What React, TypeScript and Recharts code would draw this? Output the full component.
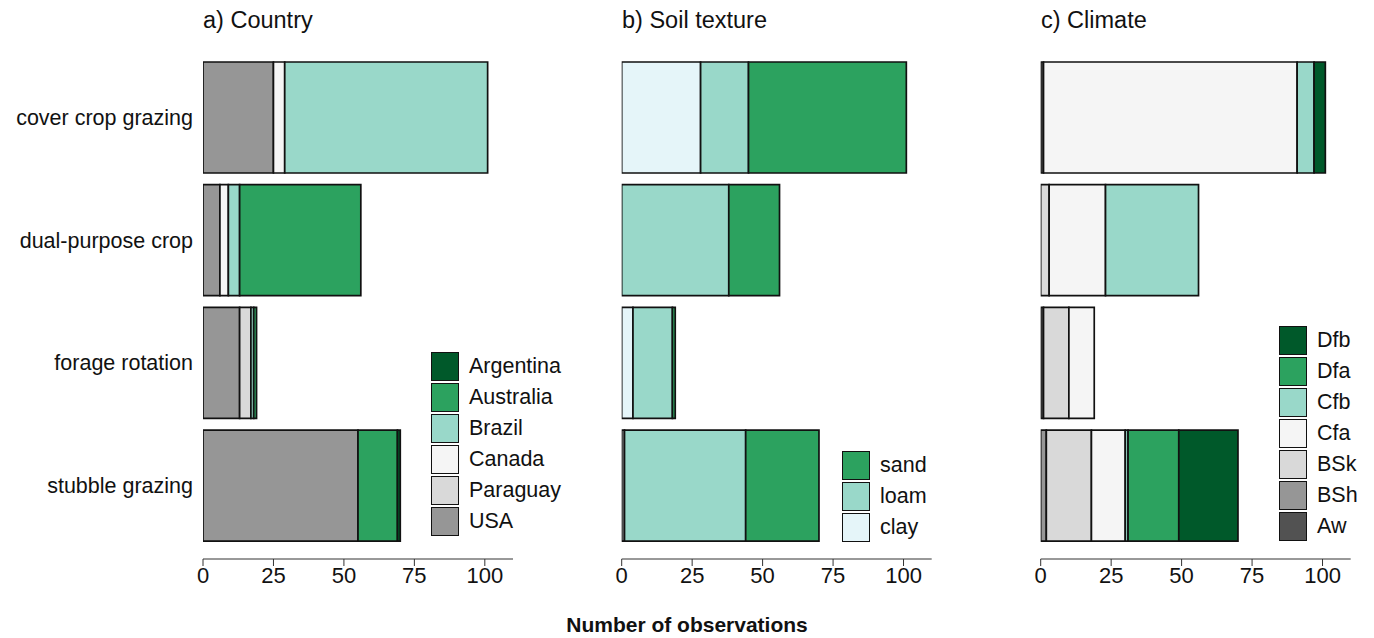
import { BarChart, Bar, XAxis, YAxis } from 'recharts'

const categories = ['cover crop grazing', 'dual-purpose crop', 'forage rotation', 'stubble grazing']
const xTicks = [0, 25, 50, 75, 100]

// country (stack order left -> right)
const usa = [25, 6, 13, 55]
const paraguay = [0, 0, 4, 0]
const canada = [4, 3, 0, 0]
const brazil = [72, 4, 1, 0]
const australia = [0, 43, 1, 14]
const argentina = [0, 0, 0, 1]

// soil texture
const soilOther = [0, 0, 0, 1]
const clay = [28, 0, 4, 0]
const loam = [17, 38, 14, 43]
const sand = [56, 18, 1, 26]

// climate
const aw = [1, 0, 1, 0]
const bsh = [0, 0, 0, 2]
const bsk = [0, 3, 9, 16]
const cfa = [90, 20, 9, 12]
const cfb = [6, 33, 0, 1]
const dfa = [0, 0, 0, 18]
const dfb = [4, 0, 0, 21]

const C = {
  dark: '#00592a',
  green: '#2ca25f',
  teal: '#99d8c9',
  white: '#f5f5f5',
  light: '#d9d9d9',
  grey: '#969696',
  dgrey: '#525252',
  ice: '#e5f5f9',
}

type Series = { key: string; values: number[]; color: string; legend: boolean }

const countrySeries: Series[] = [
  { key: 'USA', values: usa, color: C.grey, legend: true },
  { key: 'Paraguay', values: paraguay, color: C.light, legend: true },
  { key: 'Canada', values: canada, color: C.white, legend: true },
  { key: 'Brazil', values: brazil, color: C.teal, legend: true },
  { key: 'Australia', values: australia, color: C.green, legend: true },
  { key: 'Argentina', values: argentina, color: C.dark, legend: true },
]
const soilSeries: Series[] = [
  { key: 'other', values: soilOther, color: C.grey, legend: false },
  { key: 'clay', values: clay, color: C.ice, legend: true },
  { key: 'loam', values: loam, color: C.teal, legend: true },
  { key: 'sand', values: sand, color: C.green, legend: true },
]
const climateSeries: Series[] = [
  { key: 'Aw', values: aw, color: C.dgrey, legend: true },
  { key: 'BSh', values: bsh, color: C.grey, legend: true },
  { key: 'BSk', values: bsk, color: C.light, legend: true },
  { key: 'Cfa', values: cfa, color: C.white, legend: true },
  { key: 'Cfb', values: cfb, color: C.teal, legend: true },
  { key: 'Dfa', values: dfa, color: C.green, legend: true },
  { key: 'Dfb', values: dfb, color: C.dark, legend: true },
]

const FONT = '"Liberation Sans", Arial, sans-serif'
const INK = '#111'

function buildRows(series: Series[]) {
  return categories.map((cat, i) => {
    const row: Record<string, string | number> = { cat }
    series.forEach((s) => (row[s.key] = s.values[i]))
    return row
  })
}

function Panel({
  left, width, mLeft, mRight, series, showY,
}: { left: number; width: number; mLeft: number; mRight: number; series: Series[]; showY: boolean }) {
  return (
    <div style={{ position: 'absolute', left, top: 0 }}>
      <BarChart
        width={width}
        height={600}
        layout="vertical"
        data={buildRows(series)}
        barSize={111}
        margin={{ top: 56, right: mRight, bottom: 9, left: mLeft }}
      >
        <XAxis
          type="number"
          domain={[0, 110]}
          ticks={xTicks}
          allowDataOverflow
          height={32}
          stroke="#333"
          tickSize={7}
          tickMargin={1}
          tick={{ fill: INK, fontSize: 22, fontFamily: FONT }}
        />
        <YAxis
          type="category"
          dataKey="cat"
          hide={!showY}
          width={203}
          axisLine={false}
          tickLine={false}
          tickMargin={4}
          padding={{ top: 0, bottom: 12.2 }}
          tick={{ fill: INK, fontSize: 21.5, fontFamily: FONT }}
        />
        {series.map((s) => (
          <Bar
            key={s.key}
            dataKey={s.key}
            stackId="a"
            fill={s.color}
            stroke="#111"
            strokeWidth={1.7}
            isAnimationActive={false}
          />
        ))}
      </BarChart>
    </div>
  )
}

function Legend({ left, top, series }: { left: number; top: number; series: Series[] }) {
  const items = series.filter((s) => s.legend).slice().reverse()
  return (
    <div style={{ position: 'absolute', left, top, fontFamily: FONT, fontSize: 21.5, color: INK }}>
      {items.map((s) => (
        <div key={s.key} style={{ display: 'flex', alignItems: 'center', height: 31 }}>
          <div
            style={{
              width: 26,
              height: 27,
              background: s.color,
              border: '1.7px solid #111',
              marginRight: 10,
            }}
          />
          <span>{s.key}</span>
        </div>
      ))}
    </div>
  )
}

const titleStyle = { position: 'absolute' as const, top: 7, fontFamily: FONT, fontSize: 23.5, color: INK }

export default function App() {
  return (
    <div style={{ position: 'absolute', left: 0, top: 0, width: 1374, height: 638, background: '#fff' }}>
      <div style={{ ...titleStyle, left: 203 }}>a) Country</div>
      <div style={{ ...titleStyle, left: 622 }}>b) Soil texture</div>
      <div style={{ ...titleStyle, left: 1041 }}>c) Climate</div>
      <Panel left={0} width={530} mLeft={0} mRight={17} series={countrySeries} showY />
      <Panel left={530} width={420} mLeft={91.7} mRight={18.3} series={soilSeries} showY={false} />
      <Panel left={950} width={424} mLeft={90.7} mRight={23.3} series={climateSeries} showY={false} />
      <Legend left={431} top={351} series={countrySeries} />
      <Legend left={842} top={450} series={soilSeries} />
      <Legend left={1279} top={325} series={climateSeries} />
      <div
        style={{
          position: 'absolute',
          left: 0,
          width: 1374,
          top: 613,
          height: 24,
          lineHeight: '24px',
          textAlign: 'center',
          fontFamily: FONT,
          fontSize: 21,
          fontWeight: 'bold',
          color: INK,
        }}
      >
        Number of observations
      </div>
    </div>
  )
}
